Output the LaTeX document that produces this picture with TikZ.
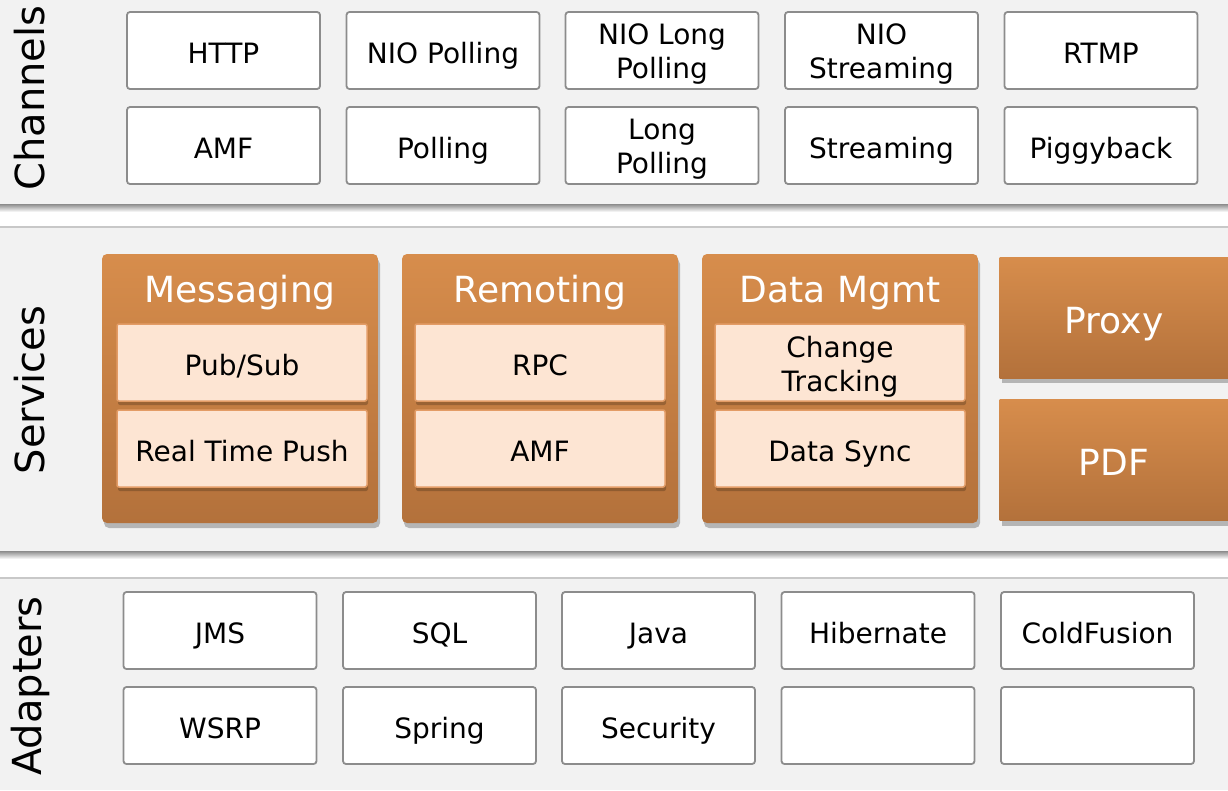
\documentclass[tikz,border=0pt]{standalone}
\usepackage{fontspec}
\setmainfont{DejaVu Sans}
\usetikzlibrary{shadows}
\definecolor{bandgray}{HTML}{F2F2F2}
\definecolor{bandline}{HTML}{C8C8C8}
\definecolor{boxline}{HTML}{8C8C8C}
\definecolor{orangetop}{HTML}{D78D4C}
\definecolor{orangebot}{HTML}{B3713B}
\definecolor{peach}{HTML}{FDE5D3}
\definecolor{peachline}{HTML}{E39C66}
% lower a line of text, keeping its box size
\newcommand\lowline[1]{\raisebox{-4pt}[\height][\depth]{#1}}
\tikzset{
  plainbox/.style={draw=boxline,line width=1.8pt,fill=white,rounded corners=3pt,
    minimum width=193pt,minimum height=77pt,inner sep=0pt,align=center,
    text height=25pt,text depth=0pt,
    font=\fontsize{28}{34}\selectfont},
  twoline/.style={text height=,text depth=},
  svcbox/.style={rounded corners=5pt,top color=orangetop,bottom color=orangebot,
    minimum width=276pt,minimum height=269pt,inner sep=0pt,
    drop shadow={shadow xshift=2pt,shadow yshift=-5pt,opacity=0.25,fill=black}},
  sidebox/.style={top color=orangetop,bottom color=orangebot,
    minimum width=229pt,minimum height=121pt,inner sep=0pt,text=white,
    text height=31pt,text depth=0pt,
    font=\fontsize{36}{40}\selectfont,
    drop shadow={shadow xshift=2pt,shadow yshift=-5pt,opacity=0.25,fill=black}},
  svctitle/.style={anchor=base,text=white,font=\fontsize{36}{40}\selectfont},
  subbox/.style={draw=peachline,line width=1.5pt,fill=peach,rounded corners=2pt,
    minimum width=250pt,minimum height=77pt,inner sep=0pt,align=center,
    text height=25pt,text depth=0pt,
    font=\fontsize{28}{34}\selectfont,
    drop shadow={shadow xshift=1pt,shadow yshift=-4pt,opacity=0.3,fill=black!70!brown}},
  bandlabel/.style={rotate=90,font=\fontsize{40}{44}\selectfont}
}
\begin{document}
\begin{tikzpicture}[x=1pt,y=-1pt]
\useasboundingbox (0,0) rectangle (1228,790);
% bands
\fill[white] (0,0) rectangle (1228,790);
\fill[bandgray] (0,0) rectangle (1228,205);
\fill[bandgray] (0,227) rectangle (1228,552);
\fill[bandgray] (0,578) rectangle (1228,790);
\shade[top color=black!45,bottom color=white] (0,204) rectangle (1228,212);
\shade[top color=black!45,bottom color=white] (0,551) rectangle (1228,559);
\draw[bandline,line width=1.5pt] (0,227) -- (1228,227);
\draw[bandline,line width=1.5pt] (0,578) -- (1228,578);
\node[bandlabel] (Lchan) at (30,98) {Channels};
\node[bandlabel] (Lserv) at (30,390) {Services};
\node[bandlabel] (Ladapt) at (30,686) {Adapters};
% channels
\node[plainbox] (C1) at (223.5,50.5) {HTTP};
\node[plainbox] (C2) at (443,50.5) {NIO Polling};
\node[plainbox,twoline] (C3) at (662,50.5) {\lowline{NIO Long}\\\lowline{Polling}};
\node[plainbox,twoline] (C4) at (881.5,50.5) {\lowline{NIO}\\\lowline{Streaming}};
\node[plainbox] (C5) at (1101,50.5) {RTMP};
\node[plainbox] (C6) at (223.5,145.5) {AMF};
\node[plainbox] (C7) at (443,145.5) {Polling};
\node[plainbox,twoline] (C8) at (662,145.5) {\lowline{Long}\\\lowline{Polling}};
\node[plainbox] (C9) at (881.5,145.5) {Streaming};
\node[plainbox] (C10) at (1101,145.5) {Piggyback};
% services
\node[svcbox] (S1) at (240,388.5) {};
\node[svcbox] (S2) at (540,388.5) {};
\node[svcbox] (S3) at (840,388.5) {};
\node[svctitle] (T1) at (240,302) {Messaging};
\node[svctitle] (T2) at (540,302) {Remoting};
\node[svctitle] (T3) at (840,302) {Data Mgmt};
\node[subbox] (M1) at (242,362.5) {Pub/Sub};
\node[subbox] (M2) at (242,448.5) {Real Time Push};
\node[subbox] (R1) at (540,362.5) {RPC};
\node[subbox] (R2) at (540,448.5) {AMF};
\node[subbox,twoline] (D1) at (840,362.5) {\lowline{Change}\\\lowline{Tracking}};
\node[subbox] (D2) at (840,448.5) {Data Sync};
\node[sidebox] (P1) at (1114,317.5) {Proxy};
\node[sidebox] (P2) at (1114,460) {PDF};
% adapters
\node[plainbox] (A1) at (220,630.5) {JMS};
\node[plainbox] (A2) at (439.5,630.5) {SQL};
\node[plainbox] (A3) at (658.5,630.5) {Java};
\node[plainbox] (A4) at (878,630.5) {Hibernate};
\node[plainbox] (A5) at (1097.5,630.5) {ColdFusion};
\node[plainbox] (A6) at (220,725.5) {WSRP};
\node[plainbox] (A7) at (439.5,725.5) {Spring};
\node[plainbox] (A8) at (658.5,725.5) {Security};
\node[plainbox] (A9) at (878,725.5) {};
\node[plainbox] (A10) at (1097.5,725.5) {};
\end{tikzpicture}
\end{document}
